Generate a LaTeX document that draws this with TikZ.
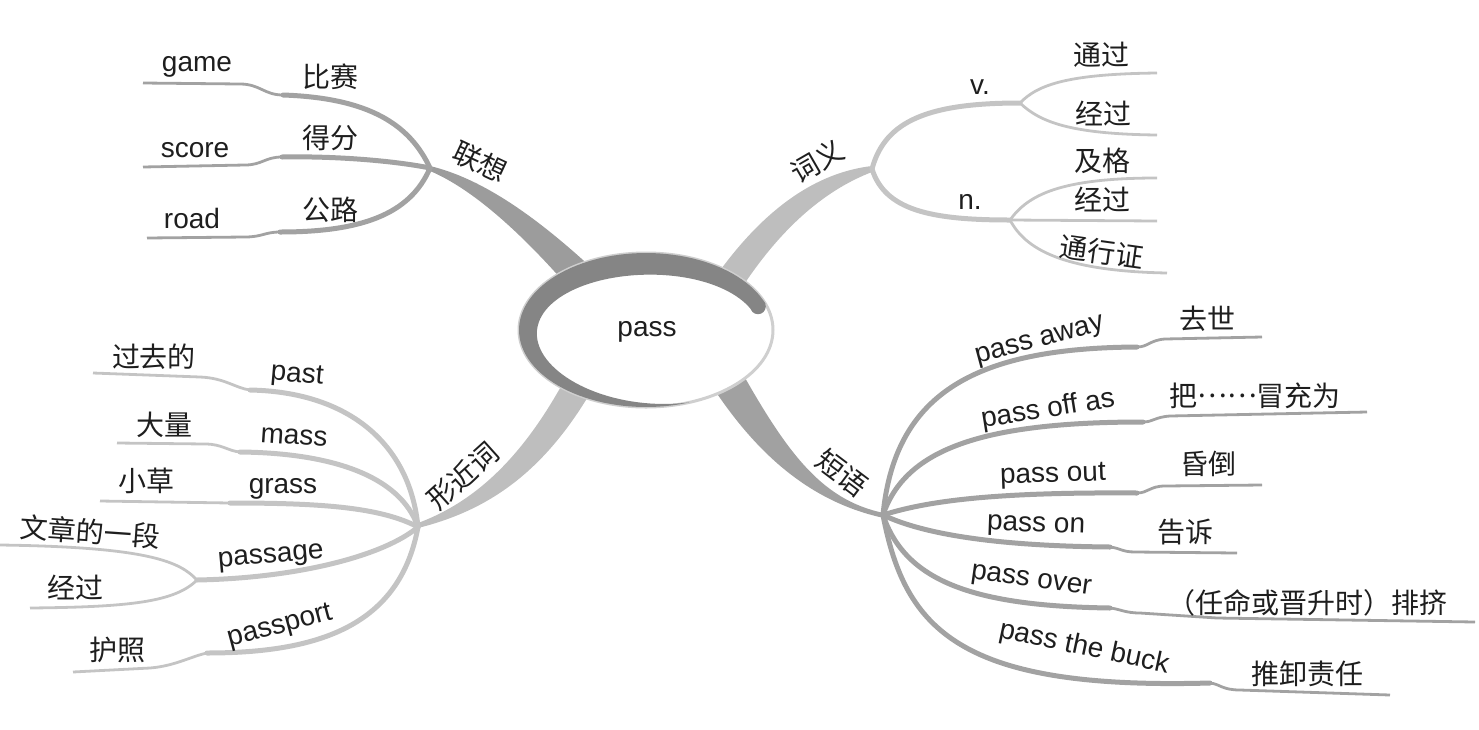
\documentclass[tikz,border=0pt]{standalone}
\usepackage{fontspec}
\setmainfont{Liberation Sans}
\newfontfamily\cjk{Noto Sans CJK SC}
\definecolor{dkbr}{HTML}{A2A2A2}
\definecolor{dkmain}{HTML}{9C9C9C}
\definecolor{ltbr}{HTML}{C4C4C4}
\definecolor{ltmain}{HTML}{BEBEBE}
\definecolor{ellgray}{HTML}{858585}
\definecolor{rim}{HTML}{CFCFCF}
\definecolor{txt}{HTML}{1E1E1E}
\tikzset{
  lab/.style={font=\fontsize{14}{16}\selectfont, text=txt, inner sep=0pt},
  clab/.style={font=\cjk\fontsize{14}{16}\selectfont, text=txt, inner sep=0pt},
  brA/.style={draw=dkbr, line width=2.5pt, line cap=round},
  brB/.style={draw=ltbr, line width=2.5pt, line cap=round},
  lnA/.style={draw=dkbr, line width=1.4pt},
  lnB/.style={draw=ltbr, line width=1.4pt},
}
\begin{document}
\begin{tikzpicture}[x=0.5pt,y=-0.5pt]
\useasboundingbox (0,0) rectangle (1479,729);

% ---------- hubs and junctions ----------
\coordinate (h1) at (430,168);
\coordinate (h2) at (872,169);
\coordinate (h3) at (418,527);
\coordinate (h4) at (883,515);

% ---------- main branches ----------
\fill[dkmain] (430,166) .. controls (480,178) and (540,215) .. (625,300) -- (600,325) .. controls (540,250) and (480,192) .. (430,171) -- cycle;
\fill[ltmain] (872,166) .. controls (820,172) and (760,205) .. (700,300) -- (728,310) .. controls (775,230) and (825,190) .. (872,172) -- cycle;
\fill[ltmain] (418,523) .. controls (480,500) and (530,450) .. (575,360) -- (602,372) .. controls (550,470) and (490,510) .. (418,528) -- cycle;
\fill[dkmain!95!white] (884,513) .. controls (820,500) and (785,450) .. (735,360) -- (703,372) .. controls (745,440) and (800,500) .. (884,518) -- cycle;

% ---------- top-left ----------
\coordinate (j-bisai) at (283,95);
\coordinate (e-game) at (143,83);
\coordinate (j-defen) at (282,157);
\coordinate (e-score) at (143,167);
\coordinate (j-gonglu) at (280,232);
\coordinate (e-road) at (147,238);
\draw[brA] (h1) .. controls (410,125) and (370,98) .. (j-bisai);
\draw[lnA] (j-bisai) .. controls (264,95) and (260,84) .. (240,84) -- (e-game);
\draw[brA] (h1) .. controls (390,160) and (330,156) .. (j-defen);
\draw[lnA] (j-defen) .. controls (265,157) and (262,165) .. (245,165) -- (e-score);
\draw[brA] (h1) .. controls (410,215) and (360,232) .. (j-gonglu);
\draw[lnA] (j-gonglu) .. controls (265,232) and (262,237) .. (245,237) -- (e-road);

% ---------- top-right ----------
\coordinate (j-v) at (1020,103);
\coordinate (e-tongguo) at (1157,73);
\coordinate (e-jingguo1) at (1157,135);
\coordinate (j-n) at (1010,220);
\coordinate (e-jige) at (1157,178);
\coordinate (e-jingguo2) at (1157,221);
\coordinate (e-txz) at (1167,273);
\draw[brB] (h2) .. controls (885,120) and (930,103) .. (j-v);
\draw[lnB] (j-v) .. controls (1038,84) and (1070,74) .. (e-tongguo);
\draw[lnB] (j-v) .. controls (1040,122) and (1070,134) .. (e-jingguo1);
\draw[brB] (h2) .. controls (885,210) and (930,220) .. (j-n);
\draw[lnB] (j-n) .. controls (1028,195) and (1060,178) .. (e-jige);
\draw[lnB] (j-n) -- (e-jingguo2);
\draw[lnB] (j-n) .. controls (1025,248) and (1060,271) .. (e-txz);

% ---------- bottom-left ----------
\coordinate (j-past) at (250,390);
\coordinate (e-past) at (93,373);
\coordinate (j-mass) at (240,452);
\coordinate (e-mass) at (117,443);
\coordinate (j-grass) at (230,503);
\coordinate (e-grass) at (100,501);
\coordinate (j-passage) at (197,580);
\coordinate (e-wz) at (0,545);
\coordinate (e-jingguo3) at (30,608);
\coordinate (j-passport) at (207,653);
\coordinate (e-passport) at (73,672);
\draw[brB] (h3) .. controls (410,445) and (350,392) .. (j-past);
\draw[lnB] (j-past) .. controls (235,388) and (225,378) .. (200,377) -- (e-past);
\draw[brB] (h3) .. controls (400,475) and (330,453) .. (j-mass);
\draw[lnB] (j-mass) .. controls (228,451) and (222,444) .. (205,444) -- (e-mass);
\draw[brB] (h3) .. controls (380,507) and (320,503) .. (j-grass);
\draw[lnB] (j-grass) -- (e-grass);
\draw[brB] (h3) .. controls (385,555) and (300,578) .. (j-passage);
\draw[lnB] (j-passage) .. controls (180,562) and (150,547) .. (e-wz);
\draw[lnB] (j-passage) .. controls (175,602) and (130,607) .. (e-jingguo3);
\draw[brB] (h3) .. controls (400,625) and (320,653) .. (j-passport);
\draw[lnB] (j-passport) .. controls (192,656) and (175,666) .. (150,668) -- (e-passport);

% ---------- bottom-right ----------
\coordinate (j-away) at (1137,347);
\coordinate (e-away) at (1262,337);
\coordinate (j-off) at (1143,422);
\coordinate (e-off) at (1367,412);
\coordinate (j-out) at (1137,493);
\coordinate (e-out) at (1262,485);
\coordinate (j-on) at (1110,547);
\coordinate (e-on) at (1237,553);
\coordinate (j-over) at (1110,608);
\coordinate (e-over) at (1475,622);
\coordinate (j-buck) at (1210,683);
\coordinate (e-buck) at (1390,695);
\draw[brA] (h4) .. controls (895,390) and (980,348) .. (j-away);
\draw[lnA] (j-away) .. controls (1148,347) and (1150,340) .. (1165,339) -- (e-away);
\draw[brA] (h4) .. controls (905,450) and (980,422) .. (j-off);
\draw[lnA] (j-off) .. controls (1153,422) and (1155,417) .. (1170,416) -- (e-off);
\draw[brA] (h4) .. controls (930,500) and (1000,492) .. (j-out);
\draw[lnA] (j-out) .. controls (1148,493) and (1150,486) .. (1165,486) -- (e-out);
\draw[brA] (h4) .. controls (925,535) and (1000,546) .. (j-on);
\draw[lnA] (j-on) .. controls (1120,548) and (1122,552) .. (1135,552) -- (e-on);
\draw[brA] (h4) .. controls (905,580) and (970,606) .. (j-over);
\draw[lnA] (j-over) .. controls (1120,609) and (1125,613) .. (1140,613) -- (1217,618) -- (e-over);
\draw[brA] (h4) .. controls (905,630) and (960,690) .. (j-buck);
\draw[lnA] (j-buck) .. controls (1220,684) and (1222,690) .. (1240,690) -- (e-buck);

% ---------- centre ellipse ----------
\fill[white, draw=rim, line width=1.5pt] (646,330) ellipse [x radius=127, y radius=77];
\fill[ellgray] plot[domain=20:290, samples=90, variable=\t] ({646+127*cos(\t)},{330-77*sin(\t)})
  -- plot[domain=290:20, samples=90, variable=\t] ({646+(127-22*cos((\t-110)/2))*cos(\t)},{330-(77-22*cos((\t-110)/2))*sin(\t)}) -- cycle;
\fill[ellgray] (758,306.4) circle [radius=7.8];
\node[lab] (t-pass) at (647,332) {pass};

% ---------- labels ----------
\node[clab, rotate=-25] (t-lianxiang) at (480,162) {联想};
\node[clab] (t-bisai) at (330,77) {比赛};
\node[lab] (t-game) at (197,67) {game};
\node[clab] (t-defen) at (330,138) {得分};
\node[lab] (t-score) at (195,150) {score};
\node[clab] (t-gonglu) at (330,210) {公路};
\node[lab] (t-road) at (192,218) {road};

\node[clab, rotate=30] (t-ciyi) at (817,161) {词义};
\node[lab] (t-v) at (980,87) {v.};
\node[clab] (t-tongguo) at (1101,55) {通过};
\node[clab] (t-jingguo1) at (1103,114) {经过};
\node[lab] (t-n) at (970,202) {n.};
\node[clab] (t-jige) at (1102,161) {及格};
\node[clab] (t-jingguo2) at (1102,200) {经过};
\node[clab, rotate=-8] (t-txz) at (1102,252) {通行证};

\node[clab, rotate=42] (t-xjc) at (463,476) {形近词};
\node[lab, rotate=-5] (t-past) at (297,376) {past};
\node[clab] (t-guoqude) at (154,357) {过去的};
\node[lab, rotate=-4] (t-mass) at (294,437) {mass};
\node[clab] (t-daliang) at (164,425) {大量};
\node[lab] (t-grass) at (283,489) {grass};
\node[clab] (t-xiaocao) at (146,481) {小草};
\node[lab, rotate=5] (t-passage) at (271,558) {passage};
\node[clab, rotate=-4] (t-wz) at (90,532) {文章的一段};
\node[clab] (t-jingguo3) at (75,588) {经过};
\node[lab, rotate=15] (t-passport) at (280,627) {passport};
\node[clab] (t-huzhao) at (118,650) {护照};

\node[clab, rotate=-37] (t-duanyu) at (842,473) {短语};
\node[lab, rotate=15] (t-passaway) at (1040,342) {pass away};
\node[clab] (t-qushi) at (1207,319) {去世};
\node[lab, rotate=9] (t-passoff) at (1048,410) {pass off as};
\node[clab] (t-mao) at (1255,396) {把\raisebox{0.33em}{……}冒充为};
\node[lab, rotate=2] (t-passout) at (1053,476) {pass out};
\node[clab] (t-hundao) at (1208,464) {昏倒};
\node[lab, rotate=-2] (t-passon) at (1036,527) {pass on};
\node[clab] (t-gaosu) at (1185,532) {告诉};
\node[lab, rotate=-8] (t-passover) at (1031,582) {pass over};
\node[clab] (t-paiji) at (1307,603) {（任命或晋升时）排挤};
\node[lab, rotate=-12] (t-buck) at (1084,648) {pass the buck};
\node[clab] (t-tuixie) at (1307,674) {推卸责任};
\end{tikzpicture}
\end{document}
